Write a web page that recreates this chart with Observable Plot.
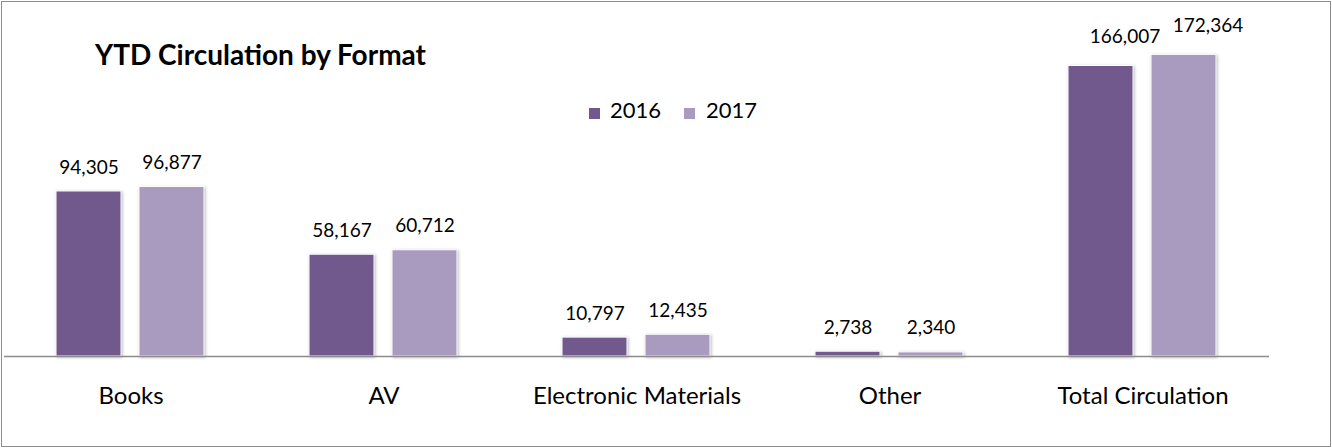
<!DOCTYPE html>
<html><head><meta charset="utf-8">
<script src="https://cdn.jsdelivr.net/npm/d3@7"></script>
<script src="https://cdn.jsdelivr.net/npm/@observablehq/plot@0.6"></script>
<style>
body{margin:0;background:#fff;font-family:Lato,sans-serif}
#wrap{position:relative;width:1332px;height:448px;overflow:hidden;background:#fff}
#chart{position:absolute;left:0;top:0}
#frame{position:absolute;left:1px;top:1px;width:1330px;height:446px;box-sizing:border-box;border:1px solid #8c8c8c;pointer-events:none}
#title{position:absolute;left:95px;top:40px;font-weight:bold;font-size:28px;line-height:1;color:#000;white-space:nowrap}
.lg-sw{position:absolute;width:11px;height:11px;top:108px}
.lg-tx{position:absolute;top:99px;font-size:22px;line-height:1;color:#000}
g[aria-label="bar"] rect{filter:drop-shadow(1px 1px 1.5px rgba(0,0,0,0.28))}
</style>
</head><body>
<div id="wrap">
  <div id="chart"></div>
  <div id="title">YTD Circulation by Format</div>
  <div id="legend"></div>
  <div id="frame"></div>
</div>
<script>
const categories = ["Books", "AV", "Electronic Materials", "Other", "Total Circulation"];
const years = ["2016", "2017"];
const values2016 = [94305, 58167, 10797, 2738, 166007];
const values2017 = [96877, 60712, 12435, 2340, 172364];
const colors = ["#71598E", "#A99BC0"];

const rows = categories.flatMap((c, i) => [
  {category: c, year: years[0], value: values2016[i]},
  {category: c, year: years[1], value: values2017[i]}
]);
const regular = rows.filter(d => d.category !== "Total Circulation");
const totals = rows.filter(d => d.category === "Total Circulation");
const fmt = d3.format(",");

const chart = Plot.plot({
  width: 1332,
  height: 448,
  marginLeft: 2,
  marginRight: 61,
  marginTop: 6,
  marginBottom: 92,
  style: {fontFamily: "Lato, sans-serif", background: "transparent", color: "#000"},
  fx: {domain: categories, padding: 0, label: null},
  x: {domain: years, paddingInner: 0.214, paddingOuter: 0.617, axis: null},
  y: {domain: [0, 200000], axis: null},
  color: {domain: years, range: colors},
  marks: [
    Plot.barY(rows, {fx: "category", x: "year", y: "value", fill: "year", stroke: "white", strokeWidth: 1}),
    Plot.ruleY([0], {stroke: "#8c8c8c", strokeWidth: 1.5}),
    Plot.text(regular, {fx: "category", x: "year", y: "value", text: d => fmt(d.value), dy: -24, fontSize: 19, fill: "#000"}),
    Plot.text(totals, {fx: "category", x: "year", y: "value", text: d => fmt(d.value), dy: -29, dx: 24, fontSize: 19, fill: "#000"}),
    Plot.axisFx({anchor: "bottom", tickSize: 0, tickPadding: 30, fontSize: 24, label: null, fill: "#000"})
  ]
});
document.getElementById("chart").appendChild(chart);

const legend = document.getElementById("legend");
const swX = [589, 684], txX = [610, 706];
years.forEach((y, i) => {
  const s = document.createElement("div");
  s.className = "lg-sw"; s.style.left = swX[i] + "px"; s.style.background = colors[i];
  const t = document.createElement("div");
  t.className = "lg-tx"; t.style.left = txX[i] + "px"; t.textContent = y;
  legend.appendChild(s); legend.appendChild(t);
});
</script>
</body></html>
